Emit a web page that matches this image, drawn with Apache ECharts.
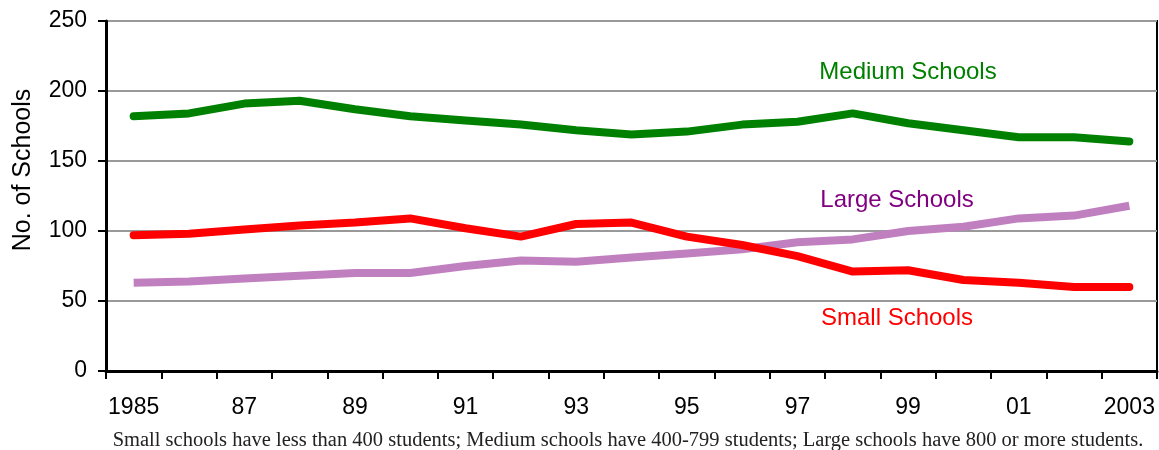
<!DOCTYPE html>
<html>
<head>
<meta charset="utf-8">
<script src="https://cdn.jsdelivr.net/npm/echarts@6/dist/echarts.min.js"></script>
<style>
html,body{margin:0;padding:0;background:#fff;}
#chart{width:1159px;height:450px;}
</style>
</head>
<body>
<div id="chart"></div>
<script>
const years = ['1985','1986','1987','1988','1989','1990','1991','1992','1993','1994','1995','1996','1997','1998','1999','2000','2001','2002','2003'];
const yearLabels = ['1985','','87','','89','','91','','93','','95','','97','','99','','01','','2003'];
const mediumSchools = [182,184,191,193,187,182,179,176,172,169,171,176,178,184,177,172,167,167,164];
const smallSchools = [97,98,101,104,106,109,102,96,105,106,96,90,82,71,72,65,63,60,60];
const largeSchools = [63,64,66,68,70,70,75,79,78,81,84,87,92,94,100,103,109,111,118];
const seriesNames = ['Medium Schools','Large Schools','Small Schools'];
const yTicks = {min:0, max:250, interval:50};

const chart = echarts.init(document.getElementById('chart'), null, {renderer:'canvas'});
const font = 'Arial, "Liberation Sans", sans-serif';
chart.setOption({
  animation:false,
  backgroundColor:'#fff',
  grid:{left:106, right:2, top:21, bottom:79, show:true, borderColor:'#000', borderWidth:2},
  xAxis:{
    type:'category', data:years, boundaryGap:true,
    axisLine:{lineStyle:{color:'#000', width:3}},
    axisTick:{show:true, interval:0, length:8, lineStyle:{color:'#000', width:2}},
    axisLabel:{interval:0, margin:25, color:'#000', fontSize:23, fontFamily:font,
      formatter:(v, i) => yearLabels[i]},
    splitLine:{show:false}
  },
  yAxis:{
    type:'value', min:yTicks.min, max:yTicks.max, interval:yTicks.interval,
    axisLine:{show:true, lineStyle:{color:'#000', width:3}},
    axisTick:{show:true, length:8, lineStyle:{color:'#000', width:2}},
    axisLabel:{margin:19, color:'#000', fontSize:23, fontFamily:font},
    splitLine:{show:true, lineStyle:{color:'#999', width:2}}
  },
  series:[
    {name:seriesNames[0], type:'line', data:mediumSchools, symbol:'none', lineStyle:{color:'#008000', width:8, cap:'round', join:'round'}, z:3},
    {name:seriesNames[1], type:'line', data:largeSchools, symbol:'none', lineStyle:{color:'#C080C0', width:8, join:'round'}, z:2},
    {name:seriesNames[2], type:'line', data:smallSchools, symbol:'none', lineStyle:{color:'#FF0000', width:8, cap:'round', join:'round'}, z:4}
  ],
  graphic:[
    {type:'text', x:23, y:170, rotation:Math.PI/2, style:{text:'No. of Schools', fill:'#000', font:'25px '+font, textAlign:'center', textVerticalAlign:'middle', x:0, y:0}},
    {type:'text', style:{text:seriesNames[0], fill:'#008000', font:'24px '+font, textAlign:'center', textVerticalAlign:'middle', x:908, y:72}},
    {type:'text', style:{text:seriesNames[1], fill:'#800080', font:'24px '+font, textAlign:'center', textVerticalAlign:'middle', x:897, y:200}},
    {type:'text', style:{text:seriesNames[2], fill:'#FF0000', font:'24px '+font, textAlign:'center', textVerticalAlign:'middle', x:897, y:318}},
    {type:'text', style:{text:'Small schools have less than 400 students; Medium schools have 400-799 students; Large schools have 800 or more students.', fill:'#222', font:'20.5px "Liberation Serif", "DejaVu Serif", serif', textAlign:'center', textVerticalAlign:'middle', x:628, y:441}}
  ]
});
</script>
</body>
</html>
